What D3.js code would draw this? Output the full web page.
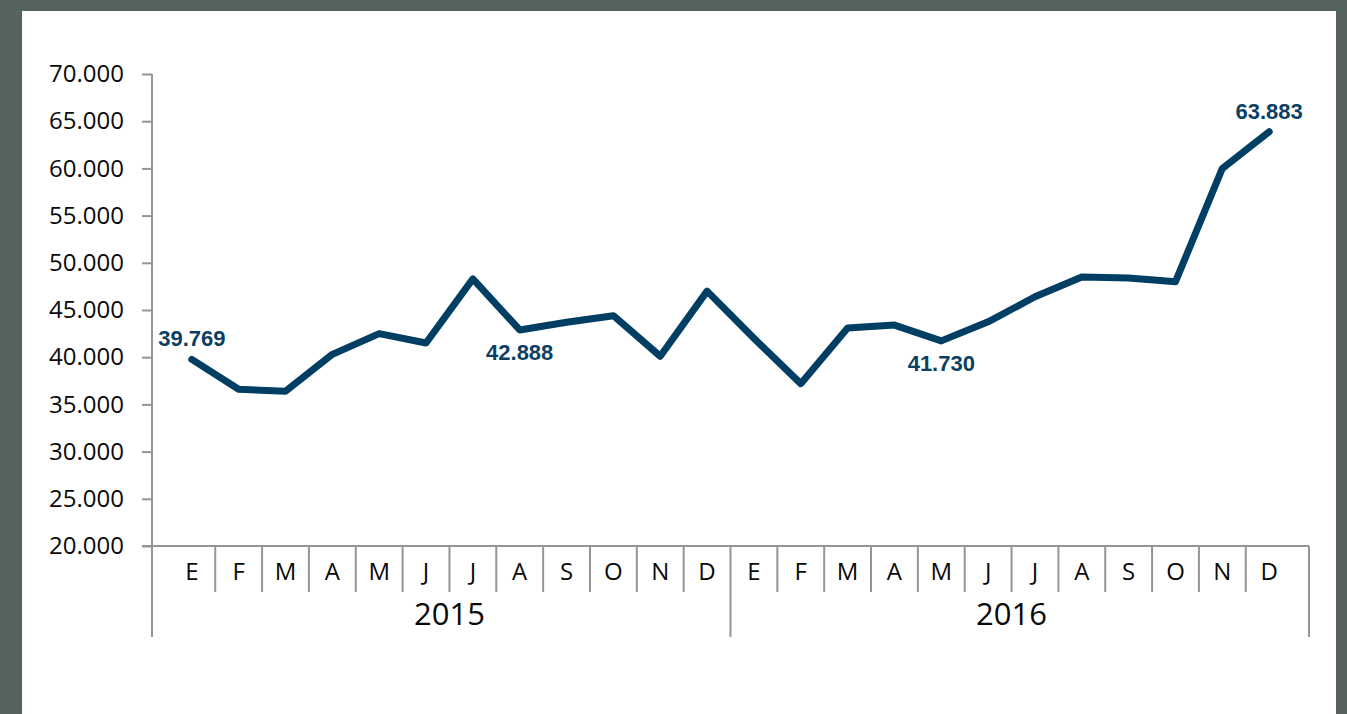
<!DOCTYPE html>
<html>
<head>
<meta charset="utf-8">
<script src="https://cdn.jsdelivr.net/npm/d3@7"></script>
<style>
  body { margin: 0; background: #56625f; }
  svg { display: block; }
</style>
</head>
<body>
<script>
// monthly values 2015-2016

var months = ["E", "F", "M", "A", "M", "J", "J", "A", "S", "O", "N", "D"];
var years = ["2015", "2016"];
var values2015 = [39769, 36600, 36400, 40300, 42500, 41500, 48300, 42888, 43700, 44400, 40100, 47000];
var values2016 = [42000, 37200, 43100, 43400, 41730, 43750, 46400, 48500, 48400, 48000, 60000, 63883];
var yTicks = [20000, 25000, 30000, 35000, 40000, 45000, 50000, 55000, 60000, 65000, 70000];
// which points carry a label, and whether it goes above or below
var labelled = [{i: 0, pos: "above"}, {i: 7, pos: "below"}, {i: 16, pos: "below"}, {i: 23, pos: "above"}];

var width = 1347,
    height = 714;

var data = [];
years.forEach(function(yr, yi) {
  var vals = yi == 0 ? values2015 : values2016;
  months.forEach(function(m, mi) {
    data.push({year: yr, month: m, value: vals[mi], idx: yi * 12 + mi});
  });
});

var svg = d3.select("body").append("svg")
    .attr("width", width)
    .attr("height", height);

svg.append("rect")
    .attr("width", width).attr("height", height)
    .attr("fill", "#56625f");

svg.append("rect")
    .attr("x", 22).attr("y", 11)
    .attr("width", 1314).attr("height", height - 11)
    .attr("fill", "#ffffff");

var plotLeft = 152, plotRight = 1309, plotTop = 74, plotBottom = 546;

var x = d3.scaleBand()
    .domain(d3.range(data.length))
    .range([plotLeft, plotRight])
    .paddingOuter(0.35)
    .paddingInner(0);

var y = d3.scaleLinear()
    .domain([20000, 70000])
    .range([plotBottom, plotTop]);

var fmt = function(v) { return d3.format(",")(v).replace(/,/g, "."); };
var axisColor = "#959595";

// y axis
var yAxis = svg.append("g")
    .attr("transform", "translate(" + plotLeft + ",0)")
    .call(d3.axisLeft(y).tickValues(yTicks).tickSize(10).tickPadding(18).tickFormat(fmt));

yAxis.select(".domain").remove();
yAxis.selectAll(".tick line").attr("stroke", axisColor).attr("stroke-width", 2);
yAxis.selectAll(".tick text")
    .attr("fill", "#0a0a0a")
    .style("font-family", "'Open Sans', sans-serif")
    .style("font-size", "24px");

var grid = svg.append("g")
    .attr("stroke", axisColor)
    .attr("stroke-width", 2)
    .attr("fill", "none");

// vertical axis line goes down to the year row
grid.append("line")
    .attr("x1", plotLeft).attr("x2", plotLeft)
    .attr("y1", plotTop).attr("y2", 637);

grid.append("line")
    .attr("x1", plotLeft - 10).attr("x2", plotRight)
    .attr("y1", plotBottom).attr("y2", plotBottom);

grid.append("line")
    .attr("x1", plotRight).attr("x2", plotRight)
    .attr("y1", plotBottom).attr("y2", 637);

// month separators
grid.selectAll(".sep")
    .data(data.slice(1))
    .enter()
    .append("line")
    .attr("x1", function(d) { return x(d.idx); })
    .attr("x2", function(d) { return x(d.idx); })
    .attr("y1", plotBottom)
    .attr("y2", function(d) { return d.idx % 12 == 0 ? 637 : 592; });

svg.selectAll(".month")
    .data(data)
    .enter()
    .append("text")
    .attr("x", function(d) { return x(d.idx) + x.bandwidth() / 2; })
    .attr("y", 580)
    .attr("text-anchor", "middle")
    .style("font-family", "'Open Sans', sans-serif")
    .style("font-size", "24px")
    .attr("fill", "#0a0a0a")
    .text(function(d) { return d.month; });

svg.selectAll(".year")
    .data(years)
    .enter()
    .append("text")
    .attr("x", function(d, i) {
      var a = x(i * 12), b = x(i * 12 + 11) + x.bandwidth();
      return (a + b) / 2;
    })
    .attr("y", 625)
    .attr("text-anchor", "middle")
    .style("font-family", "'Open Sans', sans-serif")
    .style("font-size", "31px")
    .attr("fill", "#0a0a0a")
    .text(function(d) { return d; });

var line = d3.line()
    .x(function(d) { return x(d.idx) + x.bandwidth() / 2; })
    .y(function(d) { return y(d.value); });

svg.append("path")
    .datum(data)
    .attr("d", line)
    .attr("fill", "none")
    .attr("stroke", "#003f63")
    .attr("stroke-width", 7)
    .attr("stroke-linejoin", "round")
    .attr("stroke-linecap", "round");

svg.selectAll(".dlabel")
    .data(labelled)
    .enter()
    .append("text")
    .attr("x", function(d) { return x(d.i) + x.bandwidth() / 2; })
    .attr("y", function(d) {
      var v = data[d.i].value;
      return d.pos == "above" ? y(v) - 13 : y(v) + 30;
    })
    .attr("text-anchor", "middle")
    .style("font-family", "'Liberation Sans', Arial, sans-serif")
    .style("font-weight", "bold")
    .style("font-size", "22px")
    .attr("fill", "#0b3f62")
    .text(function(d) { return fmt(data[d.i].value); });
</script>
</body>
</html>
